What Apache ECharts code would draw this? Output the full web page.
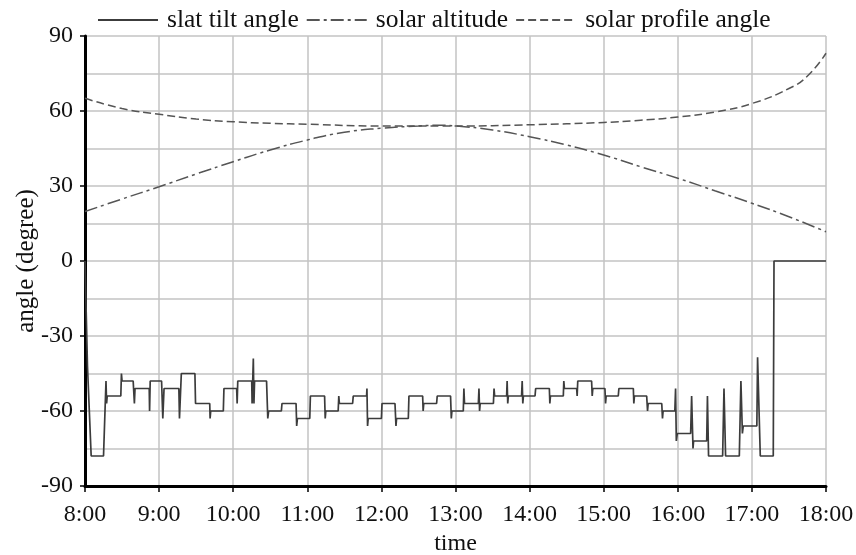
<!DOCTYPE html>
<html>
<head>
<meta charset="utf-8">
<script src="https://cdn.jsdelivr.net/npm/echarts@6/dist/echarts.min.js"></script>
<style>
html,body{margin:0;padding:0;background:#fff;}
#chart{width:856px;height:555px;}
</style>
</head>
<body>
<div id="chart"></div>
<script>
// x values are minutes after 8:00
var hourLabels = ['8:00','9:00','10:00','11:00','12:00','13:00','14:00','15:00','16:00','17:00','18:00'];
var yTickValues = [-90,-60,-30,0,30,60,90];

var slatTime = [0,2,5,15,17,17.5,18,29,29.5,30,39,40,40.5,52,52.3,52.8,62,63,64,76,76.5,78,89,89.5,101,101.3,101.8,112,112.5,122.8,123.2,123.7,135,135.3,135.8,136.3,136.8,137.3,147,148,148.7,159,159.5,170.9,171.4,172,182,182.5,194,194.5,195,205,205.5,206,216.7,217.2,228,228.3,228.8,229.3,240,240.5,251,251.8,252.3,261.8,262.3,273.4,273.8,274.3,284.7,285.2,296,296.6,297.1,306.3,306.8,307.3,318.5,319,319.5,320,330.7,331.2,331.7,341.4,341.8,342.3,342.8,353.5,354,354.5,355,364.4,364.9,376,376.4,376.9,387.3,387.7,388.2,398.1,398.5,399,410.2,410.7,411.2,421,421.5,422,431.8,432.3,444,444.4,444.9,454.8,455.5,456,467,467.6,468.1,477.6,478.2,478.8,479.6,490.4,491.2,492.3,492.8,503.4,504,504.9,516.3,517.4,518.7,529.8,531.1,532.3,533,544,544.6,546.8,557.3,557.9,600];
var slatAngle = [0,-42,-78,-78,-48,-57,-54,-54,-45,-48,-48,-57,-51,-51,-60,-48,-48,-63,-51,-51,-63,-45,-45,-57,-57,-63,-60,-60,-51,-51,-57,-48,-48,-57,-48,-39,-57,-48,-48,-63,-60,-60,-57,-57,-66,-63,-63,-54,-54,-63,-60,-60,-54,-57,-57,-54,-54,-51,-66,-63,-63,-57,-57,-66,-63,-63,-54,-54,-60,-57,-57,-54,-54,-63,-60,-60,-51,-57,-57,-51,-60,-57,-57,-51,-54,-54,-48,-57,-54,-54,-48,-57,-54,-54,-51,-51,-57,-54,-54,-48,-51,-51,-54,-48,-48,-54,-51,-51,-57,-54,-54,-51,-51,-57,-54,-54,-60,-57,-57,-63,-60,-60,-51,-72,-69,-69,-54,-75,-72,-72,-54,-78,-78,-51,-78,-78,-48,-69,-66,-66,-38.5,-78,-78,0,0];

var altitudeTime = [0,30,60,90,120,150,180,210,240,270,285,300,330,360,390,420,450,480,510,540,570,600];
var solarAltitude = [19.8,24.8,29.7,34.8,39.7,44.4,48.4,51.5,53.1,54.0,54.3,54.0,52.4,49.7,46.4,42.4,37.7,33.1,28.1,23.1,17.7,11.7];

var profileTime = [0,30,60,90,120,150,180,240,300,360,420,450,480,510,540,570,585,600];
var profileAngle = [65.1,61.0,58.7,56.8,55.7,55.1,54.7,54.0,54.0,54.5,55.4,56.3,57.6,59.6,63.0,69.0,74.0,83.1];

function pairs(xs, ys){ return xs.map(function(x,i){ return [x, ys[i]]; }); }

var FONT = 'Liberation Serif';
var gridColor = '#c3c3c3';

var chart = echarts.init(document.getElementById('chart'), null, {renderer:'canvas'});
chart.setOption({
  backgroundColor: '#fff',
  animation: false,
  grid: {left: 85, right: 30, top: 36, bottom: 69, containLabel: false, outerBoundsMode: 'none'},
  legend: {
    top: 2, left: 92,
    itemWidth: 60, itemHeight: 14, itemGap: 7,
    itemStyle: {opacity: 0},
    textStyle: {fontFamily: FONT, fontSize: 25.5, color: '#111', padding: [0,0,0,4]},
    data: ['slat tilt angle','solar altitude','solar profile angle']
  },
  xAxis: {
    type: 'value', min: 0, max: 600, interval: 60,
    name: 'time', nameLocation: 'middle', nameGap: 42,
    nameTextStyle: {fontFamily: FONT, fontSize: 24, color: '#111'},
    axisLine: {show: true, onZero: false, lineStyle: {color: '#000', width: 3}},
    axisTick: {show: true, length: 6, lineStyle: {color: '#000', width: 1.5}},
    axisLabel: {fontFamily: FONT, fontSize: 24, color: '#111', margin: 17,
      formatter: function(v){ return hourLabels[Math.round(v/60)]; }},
    splitLine: {show: true, lineStyle: {color: gridColor, width: 1.5}}
  },
  yAxis: {
    type: 'value', min: -90, max: 90, interval: 30,
    name: 'angle (degree)', nameLocation: 'middle', nameGap: 46, nameMoveOverlap: false,
    nameTextStyle: {fontFamily: FONT, fontSize: 25, color: '#111'},
    axisLine: {show: true, onZero: false, lineStyle: {color: '#000', width: 3}},
    axisTick: {show: true, length: 5, lineStyle: {color: '#000', width: 1.5}},
    axisLabel: {fontFamily: FONT, fontSize: 24, color: '#111', margin: 12,
      formatter: function(v){ return yTickValues.indexOf(v) >= 0 ? String(v) : ''; }},
    splitLine: {show: true, lineStyle: {color: gridColor, width: 1.5}},
    minorTick: {show: false, splitNumber: 2},
    minorSplitLine: {show: true, lineStyle: {color: gridColor, width: 1.5}}
  },
  series: [
    {
      name: 'slat tilt angle', type: 'line', symbol: 'none',
      data: pairs(slatTime, slatAngle),
      lineStyle: {color: '#3c3c3c', width: 1.7},
      itemStyle: {color: '#3c3c3c'}, z: 3
    },
    {
      name: 'solar altitude', type: 'line', symbol: 'none', smooth: true,
      data: pairs(altitudeTime, solarAltitude),
      lineStyle: {color: '#555', width: 1.5, type: [13,4,3,4]},
      itemStyle: {color: '#555'}
    },
    {
      name: 'solar profile angle', type: 'line', symbol: 'none', smooth: true,
      data: pairs(profileTime, profileAngle),
      lineStyle: {color: '#555', width: 1.5, type: [8,4]},
      itemStyle: {color: '#555'}
    }
  ]
});
</script>
</body>
</html>
